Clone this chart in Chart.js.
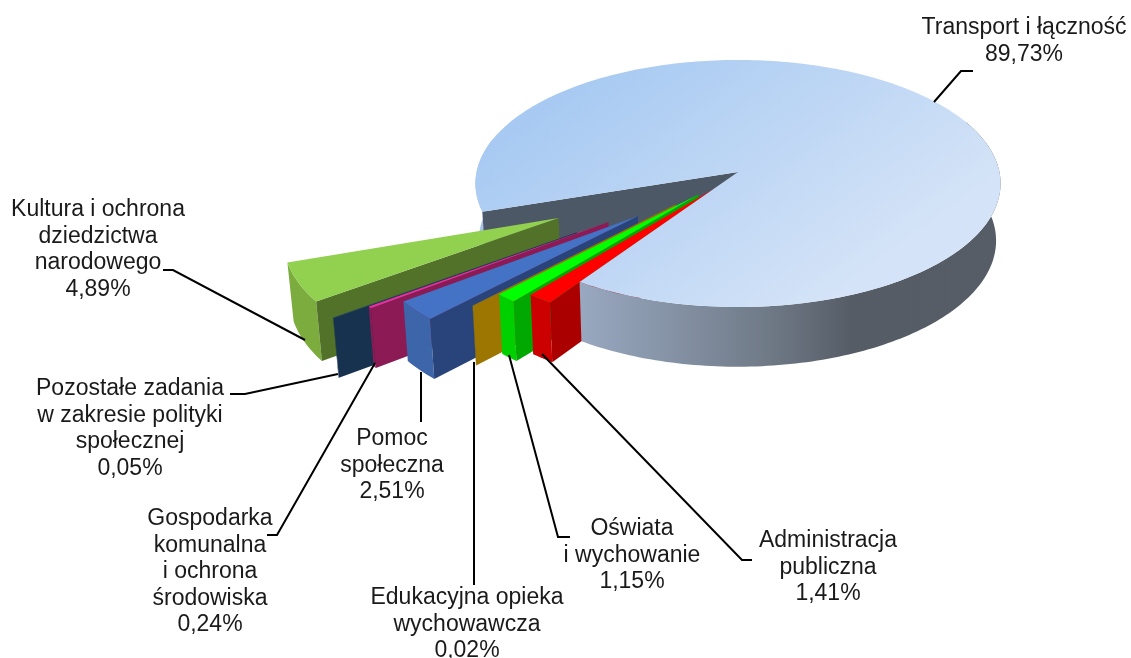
<!DOCTYPE html>
<html lang="pl">
<head>
  <meta charset="UTF-8">
  <title>Struktura wydatków</title>
  <script src="https://cdn.jsdelivr.net/npm/chart.js"></script>
  <style>
    html, body { margin: 0; padding: 0; background: #fff; }
    .wrap { width: 1131px; height: 658px; }
  </style>
</head>
<body>
<div class="wrap"><canvas id="pie"></canvas></div>
<script>
  // Values as printed on the chart, in slice order
  const categories = [
    ['Transport i łączność'],
    ['Administracja', 'publiczna'],
    ['Oświata', 'i wychowanie'],
    ['Edukacyjna opieka', 'wychowawcza'],
    ['Pomoc', 'społeczna'],
    ['Gospodarka', 'komunalna', 'i ochrona', 'środowiska'],
    ['Pozostałe zadania', 'w zakresie polityki', 'społecznej'],
    ['Kultura i ochrona', 'dziedzictwa', 'narodowego']
  ];
  const shares = [89.73, 1.41, 1.15, 0.02, 2.51, 0.24, 0.05, 4.89];
  const percentLabels = ['89,73%', '1,41%', '1,15%', '0,02%', '2,51%', '0,24%', '0,05%', '4,89%'];

  // Colours of each slice: top face, rim, cut wall
  const topColors = ['#bcd5f3', '#ff0000', '#00ff00', '#c89600', '#4472c4', '#e8309a', '#1f4468', '#92d050'];
  const rimColors = ['#8899b0', '#cc0000', '#00d000', '#9c7600', '#3c65aa', '#8b1a55', '#17324f', '#7cac3e'];
  const wallColors = ['#4d5866', '#ab0000', '#00a800', '#9c7600', '#28447a', '#8b1a55', '#17324f', '#527229'];

  // How far each slice is pulled out, in pie radii, and how far it drops towards the viewer
  const explode = [0, 0.155, 0.225, 0.34, 0.5, 0.6, 0.735, 0.75];
  const drop = [0, 0.012, 0.012, 0.012, 0.012, 0.03, 0.03, 0.012];

  // Where the labels sit and how their leader lines run
  const labelPlace = [
    { x: 1024, y: 28 }, { x: 828, y: 541 }, { x: 632, y: 529 }, { x: 467, y: 598 },
    { x: 392, y: 439 }, { x: 210, y: 519 }, { x: 130, y: 389 }, { x: 98, y: 210 }
  ];
  const leaders = [
    [[934, 102], [961, 71], [973, 71]],
    [[542, 354], [742, 560], [752, 560]],
    [[509, 355], [558, 537], [570, 537]],
    [[474, 362], [474, 585]],
    [[421, 372], [421, 422]],
    [[375, 363], [277, 535], [267, 535]],
    [[338, 374], [245, 394], [230, 394]],
    [[305, 340], [173, 270], [163, 270]]
  ];

  // Tilted view of the pie plane, with a little perspective
  const tilt = { sx: 1.52, sy: 0.712, persp: 0.093, depth: 57 };

  function project(arc, u, v, low) {
    const w = 1 - tilt.persp * v;
    let x = arc.x + arc.outerRadius * tilt.sx * u / w;
    let y = arc.y + arc.outerRadius * tilt.sy * v / w;
    if (low) {
      // bottom of the pie is slightly narrower and lower towards the viewer
      x = 700 + (x - 700) * 0.985;
      y = y + tilt.depth + 0.02 * (y - arc.y);
    }
    return [x, y];
  }

  function tip(arc, index) {
    const mid = (arc.startAngle + arc.endAngle) / 2;
    return [explode[index] * Math.cos(mid), explode[index] * Math.sin(mid) + drop[index]];
  }

  function rim(arc, index, from, to, low) {
    const [cx, cy] = tip(arc, index);
    const r = index ? 1.005 : 1;
    const steps = Math.max(2, Math.ceil((to - from) / 0.02));
    const pts = [];
    for (let i = 0; i <= steps; i++) {
      const a = from + (to - from) * i / steps;
      pts.push(project(arc, cx + r * Math.cos(a), cy + r * Math.sin(a), low));
    }
    return pts;
  }

  function apex(arc, index, low) {
    const [cx, cy] = tip(arc, index);
    return project(arc, cx, cy, low);
  }

  function fillPoly(ctx, pts, color) {
    ctx.beginPath();
    pts.forEach((p, i) => i ? ctx.lineTo(p[0], p[1]) : ctx.moveTo(p[0], p[1]));
    ctx.closePath();
    ctx.fillStyle = color;
    ctx.fill();
  }

  function drawRim(ctx, arc, index, from, to, color) {
    const top = rim(arc, index, from, to, false);
    const bottom = rim(arc, index, from, to, true).reverse();
    fillPoly(ctx, top.concat(bottom), color);
  }

  // Radial wall along the slice's starting edge
  function drawWall(ctx, arc, index) {
    const a = arc.startAngle;
    const outerTop = rim(arc, index, a, a + 0.001, false)[0];
    const outerLow = rim(arc, index, a, a + 0.001, true)[0];
    fillPoly(ctx, [apex(arc, index, false), outerTop, outerLow, apex(arc, index, true)], wallColors[index]);
  }

  function drawTop(ctx, arc, index, color) {
    fillPoly(ctx, [apex(arc, index, false)].concat(rim(arc, index, arc.startAngle, arc.endAngle, false)), color);
  }

  const pie3d = {
    id: 'pie3d',
    beforeDatasetsDraw(chart) {
      const ctx = chart.ctx;
      const arcs = chart.getDatasetMeta(0).data;
      const main = arcs[0];

      // back part of the big slice: left strip of rim and the cut wall
      const leftRim = ctx.createLinearGradient(476, 0, 490, 0);
      leftRim.addColorStop(0, '#a9c6ec');
      leftRim.addColorStop(1, '#9db9df');
      drawRim(ctx, main, 0, main.startAngle, main.startAngle + 0.6, leftRim);
      drawWall(ctx, main, 0);

      // pulled-out slices, furthest first
      for (let i = arcs.length - 1; i > 0; i--) {
        drawRim(ctx, arcs[i], i, arcs[i].startAngle, arcs[i].endAngle, rimColors[i]);
        drawWall(ctx, arcs[i], i);
        drawTop(ctx, arcs[i], i, topColors[i]);
      }

      // front rim and top of the big slice go over their inner ends
      const frontRim = ctx.createLinearGradient(580, 0, 1003, 0);
      frontRim.addColorStop(0, '#98a8c0');
      frontRim.addColorStop(0.22, '#8592a5');
      frontRim.addColorStop(0.45, '#6f7986');
      frontRim.addColorStop(0.645, '#555c66');
      frontRim.addColorStop(1, '#565d67');
      drawRim(ctx, main, 0, main.endAngle - 2.6, main.endAngle, frontRim);

      const face = ctx.createLinearGradient(610, 60, 800, 320);
      face.addColorStop(0, '#a8caf2');
      face.addColorStop(1, '#d4e3f7');
      drawTop(ctx, main, 0, face);
      return false;
    },
    afterDraw(chart) {
      const ctx = chart.ctx;
      ctx.strokeStyle = '#000';
      ctx.lineWidth = 2;
      leaders.forEach(line => {
        ctx.beginPath();
        line.forEach((p, i) => i ? ctx.lineTo(p[0], p[1]) : ctx.moveTo(p[0], p[1]));
        ctx.stroke();
      });
      ctx.fillStyle = '#1a1a1a';
      ctx.font = '23px "Liberation Sans", Arial, sans-serif';
      ctx.textAlign = 'center';
      ctx.textBaseline = 'middle';
      categories.forEach((lines, i) => {
        lines.concat(percentLabels[i]).forEach((text, n) => {
          ctx.fillText(text, labelPlace[i].x, labelPlace[i].y + n * 26.5);
        });
      });
    }
  };

  new Chart(document.getElementById('pie'), {
    type: 'pie',
    data: {
      labels: categories.map(c => c.join(' ')),
      datasets: [{ data: shares, backgroundColor: topColors, borderWidth: 0 }]
    },
    options: {
      responsive: true,
      maintainAspectRatio: false,
      animation: false,
      rotation: 251.6,
      circumference: 359.3,
      // square plot box whose centre is the pie's centre
      layout: { padding: { left: 566, right: 221, top: 0, bottom: 314 } },
      plugins: { legend: { display: false }, tooltip: { enabled: false } }
    },
    plugins: [pie3d]
  });
</script>
</body>
</html>
